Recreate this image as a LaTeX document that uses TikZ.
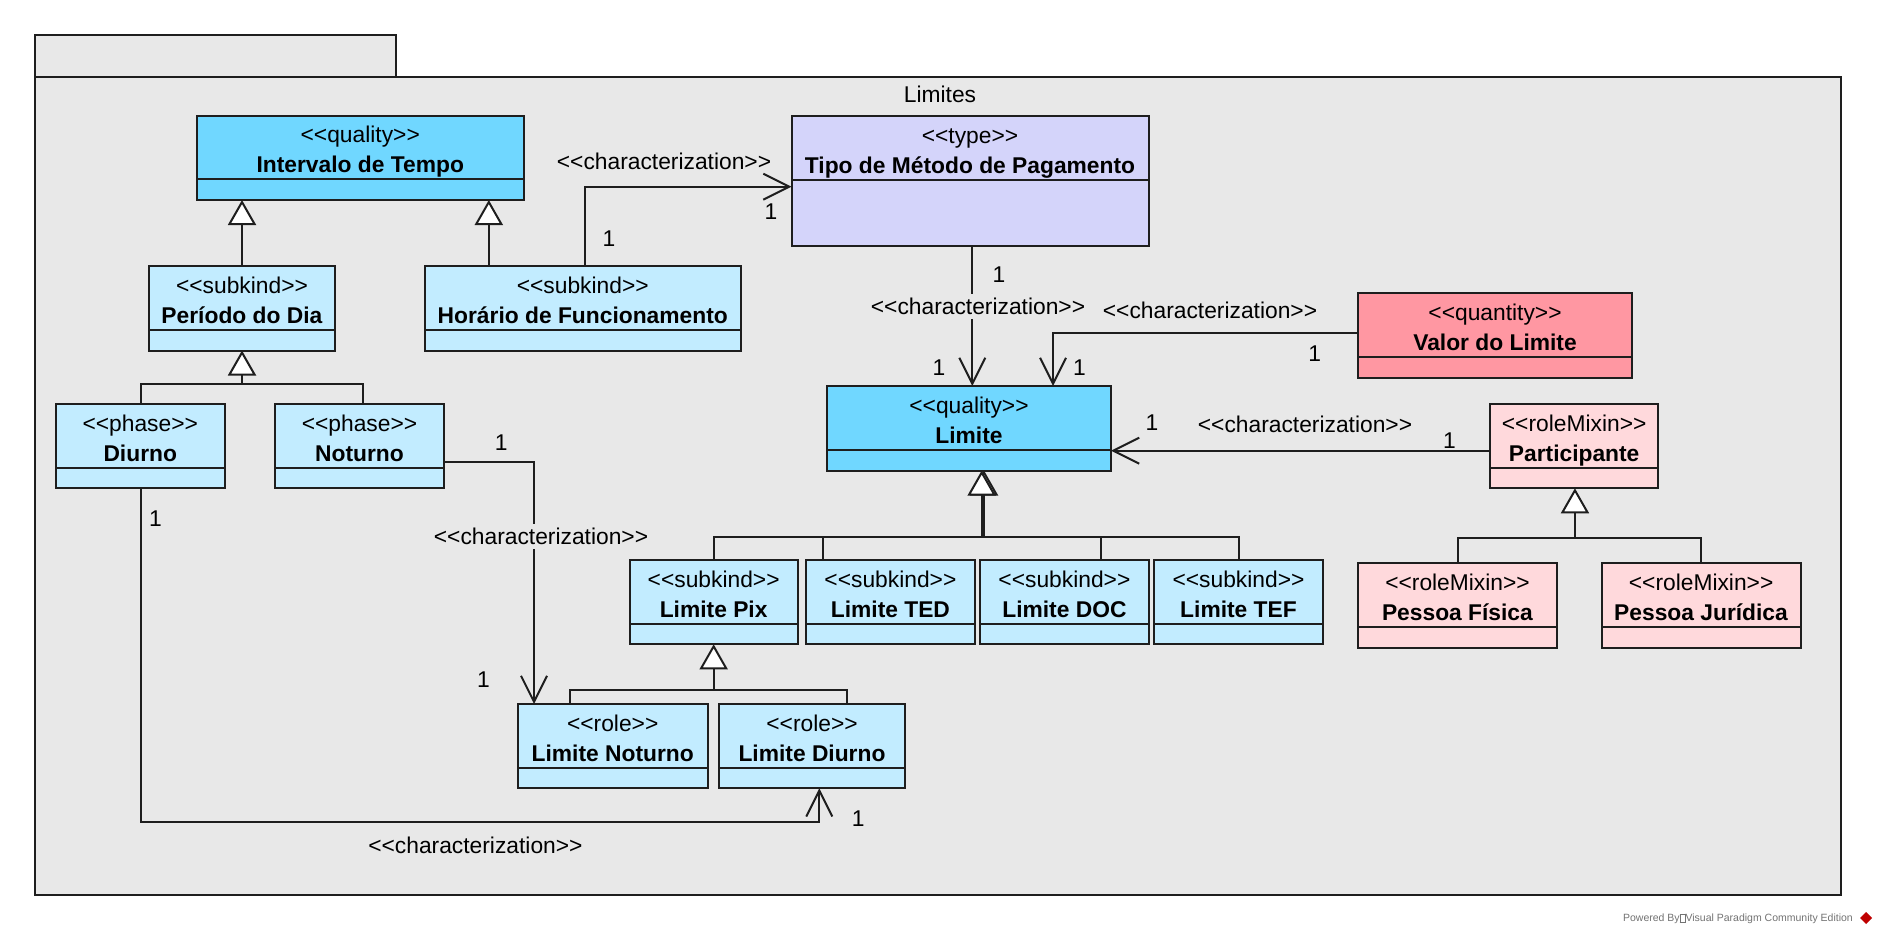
\documentclass[tikz,border=0pt]{standalone}
\usepackage{fontspec}
\setmainfont{Liberation Sans}
\usetikzlibrary{arrows.meta}

\definecolor{qualityc}{HTML}{70D7FF}
\definecolor{lightc}{HTML}{C2ECFF}
\definecolor{typec}{HTML}{D4D4FA}
\definecolor{quantc}{HTML}{FF97A2}
\definecolor{rolemc}{HTML}{FFD9DC}
\definecolor{pkgc}{HTML}{E8E8E8}
\definecolor{linec}{HTML}{1E1E1E}

\newcommand{\stt}[1]{<\kern0pt<#1>\kern0pt>}
% #1 name, #2 x1, #3 y1, #4 x2, #5 y2, #6 fill, #7 stereotype, #8 title
\newcommand{\umlclass}[8]{%
  \node[classbox, fill=#6, minimum width={#4-#2}, minimum height={#5-#3}, anchor=north west] (#1) at (#2,#3) {};
  \draw[divline] (#2,{#3+63.5}) -- (#4,{#3+63.5});
  \node[anchor=base, inner sep=0pt] (#1-s) at ({(#2+#4)/2},{#3+27}) {\stt{#7}};
  \node[anchor=base, inner sep=0pt] (#1-t) at ({(#2+#4)/2},{#3+57}) {\textbf{#8}};
}

\begin{document}
\begin{tikzpicture}[x=1pt,y=-1pt,
  every node/.style={font=\fontsize{22.8pt}{27pt}\selectfont, text=black},
  classbox/.style={draw=linec, line width=2pt, inner sep=0pt, outer sep=0pt, rectangle},
  divline/.style={draw=linec, line width=2pt},
  conn/.style={draw=linec, line width=2pt},
  gen/.style={conn, -{Triangle[length=25pt,width=28pt,fill=white]}},
  charz/.style={conn, -{Straight Barb[length=26pt,width=26pt]}},
  lbl/.style={inner sep=1pt},
  lblcut/.style={inner sep=4pt, fill=pkgc},
  pkg/.style={fill=pkgc, draw=linec, line width=1.6pt},
]
\useasboundingbox (0,0) rectangle (1878,936);
\fill[white] (0,0) rectangle (1878,936);

% package
\draw[pkg] (35,35) rectangle (396,77);
\draw[pkg] (35,77) rectangle (1841,895);
\node (pkglabel) at (940,94) {Limites};

% classes
\umlclass{intervalo}{197}{116}{523.5}{200}{qualityc}{quality}{Intervalo de Tempo}
\umlclass{tipo}{791.5}{116.5}{1148.5}{246}{typec}{type}{Tipo de Método de Pagamento}
\umlclass{periodo}{149}{266}{335}{350.5}{lightc}{subkind}{Período do Dia}
\umlclass{horario}{425}{266}{740.5}{350.5}{lightc}{subkind}{Horário de Funcionamento}
\umlclass{valor}{1358}{293.3}{1632}{377.7}{quantc}{quantity}{Valor do Limite}
\umlclass{limite}{827}{386}{1111}{470.5}{qualityc}{quality}{Limite}
\umlclass{diurno}{56}{404}{224.5}{488.3}{lightc}{phase}{Diurno}
\umlclass{noturno}{275}{404}{444}{488.3}{lightc}{phase}{Noturno}
\umlclass{participante}{1490}{404.3}{1658.3}{488.3}{rolemc}{roleMixin}{Participante}
\umlclass{pix}{629.7}{560}{797.6}{644.3}{lightc}{subkind}{Limite Pix}
\umlclass{ted}{806.2}{560}{974.6}{644.3}{lightc}{subkind}{Limite TED}
\umlclass{doc}{980}{560}{1148.8}{644.3}{lightc}{subkind}{Limite DOC}
\umlclass{tef}{1154}{560}{1323}{644.3}{lightc}{subkind}{Limite TEF}
\umlclass{fisica}{1358}{563.3}{1557}{647.7}{rolemc}{roleMixin}{Pessoa Física}
\umlclass{juridica}{1601.5}{563.3}{1800.7}{647.7}{rolemc}{roleMixin}{Pessoa Jurídica}
\umlclass{lnoturno}{517.7}{704}{707.7}{788.3}{lightc}{role}{Limite Noturno}
\umlclass{ldiurno}{719}{704.3}{905}{788.3}{lightc}{role}{Limite Diurno}

% generalizations
\draw[gen] (periodo.north) -- (periodo.north |- intervalo.south);
\draw[gen] ([xshift=63.8pt]horario.north west) -- ++(0,-66);

\draw[conn] ([xshift=1.2pt]diurno.north) -- ++(0,-20) -| ([xshift=3.9pt]noturno.north);
\draw[gen] ([yshift=-33.5pt]periodo.south) -- (periodo.south);

\draw[conn] (pix.north) -- ++(0,-22.7) -| (tef.north);
\draw[conn] ([xshift=16.3pt]ted.north west) -- ++(0,-22.7);
\draw[conn] ([xshift=121.4pt]doc.north west) -- ++(0,-22.7);
\draw[gen] ([xshift=15pt,yshift=-66.8pt]limite.south) -- ([xshift=15pt]limite.south);
\draw[gen] ([xshift=12.7pt,yshift=-66.8pt]limite.south) -- ([xshift=12.7pt]limite.south);

\draw[conn] ([xshift=52.3pt]lnoturno.north west) -- ++(0,-14) -| ([xshift=127.7pt]ldiurno.north west);
\draw[gen] ([yshift=-45.7pt]pix.south) -- (pix.south);

\draw[conn] (fisica.north) -- ++(0,-25) -| (juridica.north);
\draw[gen] ([xshift=0.8pt,yshift=-50pt]participante.south) -- ([xshift=0.8pt]participante.south);

% characterizations
\draw[charz] ([xshift=160.3pt]horario.north west) |- ([yshift=-70.2pt]tipo.north west);
\draw[charz] ([xshift=2.3pt]tipo.south) -- ([xshift=3.3pt]limite.north);
\draw[charz] ([yshift=2.8pt]valor.west) -| ([xshift=226pt]limite.north west);
\draw[charz] ([yshift=-4.4pt]participante.west) -- ([yshift=-22.45pt]limite.east);
\draw[charz] ([yshift=-15.5pt]noturno.east) -| ([xshift=16.3pt]lnoturno.north west);
\draw[charz] ([xshift=1.2pt]diurno.south) -- ++(0,334) -| ([xshift=7.3pt]ldiurno.south);

% labels
\node[lbl] (c1) at (664,161.7) {\stt{characterization}};
\node[lblcut] (c2) at (978,306.7) {\stt{characterization}};
\node[lbl] (c3) at (1210,310) {\stt{characterization}};
\node[lbl] (c4) at (1305,424) {\stt{characterization}};
\node[lblcut] (c5) at (541,536.7) {\stt{characterization}};
\node[lbl] (c6) at (475.4,845.7) {\stt{characterization}};

\node[lbl] (m1) at (609,239) {1};
\node[lbl] (m2) at (771,211.7) {1};
\node[lbl] (m3) at (999,275) {1};
\node[lbl] (m4) at (939,368) {1};
\node[lbl] (m5) at (1079.5,368) {1};
\node[lbl] (m6) at (1314.8,353.3) {1};
\node[lbl] (m7) at (1152,423) {1};
\node[lbl] (m8) at (1449.4,440.7) {1};
\node[lbl] (m9) at (501.3,442.7) {1};
\node[lbl] (m10) at (483.5,680) {1};
\node[lbl] (m11) at (155.4,518.3) {1};
\node[lbl] (m12) at (858.3,818.3) {1};

% footer
\node[anchor=east, inner sep=0pt, font=\fontsize{10.5pt}{12pt}\selectfont, text=black!55] (powered) at (1853,919)
  {Powered By{\fboxsep=0pt\fboxrule=0.4pt\fbox{\rule{0pt}{7pt}\hspace{5pt}}}Visual Paradigm Community Edition};
\node[fill=red!75!black, rotate=45, minimum size=8.5pt, inner sep=0pt] (logo) at (1866,918) {};
\end{tikzpicture}
\end{document}
